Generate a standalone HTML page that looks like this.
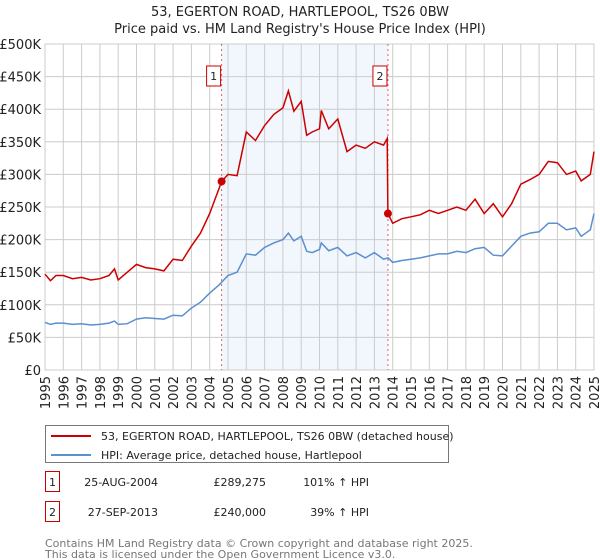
<!DOCTYPE html>
<html><head><meta charset="utf-8"><style>
body{margin:0;background:#fff;font-family:"Liberation Sans","DejaVu Sans",sans-serif;}
#wrap{position:relative;width:600px;height:560px;overflow:hidden}
text{font-family:"DejaVu Sans","Liberation Sans",sans-serif}
</style></head><body><div id="wrap">
<svg id="c" width="600" height="560" xmlns="http://www.w3.org/2000/svg"></svg>
</div>
<script>
const hpiYears=[1995,1995.3,1995.6,1996,1996.5,1997,1997.5,1998,1998.5,1998.8,1999,1999.5,2000,2000.5,2001,2001.5,2002,2002.5,2003,2003.5,2004,2004.5,2005,2005.5,2006,2006.5,2007,2007.5,2008,2008.3,2008.6,2009,2009.3,2009.6,2010,2010.1,2010.5,2011,2011.5,2012,2012.5,2013,2013.5,2013.75,2014,2014.5,2015,2015.5,2016,2016.5,2017,2017.5,2018,2018.5,2019,2019.5,2020,2020.5,2021,2021.5,2022,2022.5,2023,2023.5,2024,2024.3,2024.8,2025];
const hpiValues=[73,70,72,72,70,71,69,70,72,75,70,71,78,80,79,78,84,83,95,104,118,130,145,150,178,176,188,195,200,210,198,205,182,180,185,195,183,188,175,180,172,180,170,172,165,168,170,172,175,178,178,182,180,186,188,176,175,190,205,210,212,225,225,215,218,205,215,240];
const redYears=[1995,1995.3,1995.6,1996,1996.5,1997,1997.5,1998,1998.5,1998.8,1999,1999.5,2000,2000.5,2001,2001.5,2002,2002.5,2003,2003.5,2004,2004.65,2005,2005.5,2006,2006.5,2007,2007.5,2008,2008.3,2008.6,2009,2009.3,2009.6,2010,2010.1,2010.5,2011,2011.5,2012,2012.5,2013,2013.5,2013.7,2013.74,2014,2014.5,2015,2015.5,2016,2016.5,2017,2017.5,2018,2018.5,2019,2019.5,2020,2020.5,2021,2021.5,2022,2022.5,2023,2023.5,2024,2024.3,2024.8,2025];
const redValues=[147,137,145,145,140,142,138,140,145,155,138,150,162,157,155,152,170,168,190,210,240,289,300,298,365,352,375,392,402,428,397,412,360,365,370,398,370,385,335,345,340,350,345,355,240,225,232,235,238,245,240,245,250,245,262,240,255,235,255,285,292,300,320,318,300,305,290,300,335];
const saleYears=[2004.65,2013.74];
const salePrices=[289.275,240];
const saleLabels=["1","2"];
const yTicks=[0,50,100,150,200,250,300,350,400,450,500];
const yTickLabels=["£0","£50K","£100K","£150K","£200K","£250K","£300K","£350K","£400K","£450K","£500K"];
const xTicks=[];for(let y=1995;y<=2025;y++)xTicks.push(y);

const X0=45,X1=594,Y0=370,Y1=44;
const xs=v=>X0+(v-1995)/30*(X1-X0);
const ys=v=>Y0-v/500*(Y0-Y1);
const svg=document.getElementById('c');const NS="http://www.w3.org/2000/svg";
function mk(t,a,p){const e=document.createElementNS(NS,t);for(const k in a)e.setAttribute(k,a[k]);(p||svg).appendChild(e);return e;}
function tx(s,a){const e=mk('text',a);e.textContent=s;return e;}

let e=tx("53, EGERTON ROAD, HARTLEPOOL, TS26 0BW",{x:300,y:16,'text-anchor':'middle','font-size':13,fill:'#222'});


e=tx("Price paid vs. HM Land Registry's House Price Index (HPI)",{x:300,y:33,'text-anchor':'middle','font-size':13,fill:'#222'});



e=mk('rect',{x:xs(saleYears[0]),y:Y1,width:xs(saleYears[1])-xs(saleYears[0]),height:Y0-Y1,fill:'#edf2fc',opacity:0.7});



yTicks.forEach((t,i)=>{
 e=mk('line',{x1:X0,x2:X1,y1:ys(t),y2:ys(t),stroke:'#ccc','stroke-width':1});
 
 
 e=tx(yTickLabels[i],{x:X0-4,y:ys(t)+5,'text-anchor':'end','font-size':13,fill:'#222'});
 
 
});
xTicks.forEach(t=>{
 e=mk('line',{x1:xs(t),x2:xs(t),y1:Y1,y2:Y0,stroke:'#ccc','stroke-width':1});
 
 
 e=tx(String(t),{x:0,y:0,'text-anchor':'end','font-size':13,fill:'#222',transform:`translate(${xs(t)+5},${Y0+6}) rotate(-90)`});
 
 
});
e=mk('rect',{x:X0,y:Y1,width:X1-X0,height:Y0-Y1,fill:'none',stroke:'#ccc'});



saleYears.forEach((s,i)=>{
 e=mk('line',{x1:xs(s),x2:xs(s),y1:Y1,y2:Y0,stroke:'#e06060','stroke-dasharray':'2,3','stroke-width':1});
 
 
 e=mk('rect',{x:xs(s)-15,y:66,width:14,height:20,fill:'#fff',stroke:'#c00'});
 
 
 e=tx(saleLabels[i],{x:xs(s)-8,y:80,'text-anchor':'middle','font-size':11,fill:'#222'});
 
 
});

function path(xa,va){return xa.map((x,i)=>(i?'L':'M')+xs(x).toFixed(1)+','+ys(va[i]).toFixed(1)).join('');}
e=mk('path',{d:path(hpiYears,hpiValues),fill:'none',stroke:'#5b8fd0','stroke-width':1.5});


e=mk('path',{d:path(redYears,redValues),fill:'none',stroke:'#cc0000','stroke-width':1.5});


saleYears.forEach((s,i)=>{
 e=mk('circle',{cx:xs(s),cy:ys(salePrices[i]),r:4,fill:'#cc0000'});
 
 
});

// legend
e=mk('rect',{x:45.5,y:425.5,width:403,height:37,fill:'#fff',stroke:'#777'});


e=mk('line',{x1:51,x2:91,y1:436,y2:436,stroke:'#cc0000','stroke-width':2});


e=tx("53, EGERTON ROAD, HARTLEPOOL, TS26 0BW (detached house)",{x:101,y:440,'font-size':11,fill:'#222'});


e=mk('line',{x1:51,x2:91,y1:455,y2:455,stroke:'#5b8fd0','stroke-width':2});


e=tx("HPI: Average price, detached house, Hartlepool",{x:101,y:459,'font-size':11,fill:'#222'});



const rows=[["1","25-AUG-2004","£289,275","101% ↑ HPI",483],["2","27-SEP-2013","£240,000","39% ↑ HPI",513]];
rows.forEach(r=>{
 e=mk('rect',{x:45.5,y:r[4]-11.5,width:14,height:20,fill:'#fff',stroke:'#c00'});
 
 
 e=tx(r[0],{x:52.5,y:r[4]+3,'text-anchor':'middle','font-size':11,fill:'#222'});
 
 
 e=tx(r[1],{x:158,y:r[4]+3,'text-anchor':'end','font-size':11,fill:'#222'});
 
 
 e=tx(r[2],{x:266,y:r[4]+3,'text-anchor':'end','font-size':11,fill:'#222'});
 
 
 e=tx(r[3],{x:369,y:r[4]+3,'text-anchor':'end','font-size':11,fill:'#222'});
 
 
});
e=tx("Contains HM Land Registry data © Crown copyright and database right 2025.",{x:45,y:547,'font-size':11,fill:'#777'});


e=tx("This data is licensed under the Open Government Licence v3.0.",{x:45,y:558,'font-size':11,fill:'#777'});


</script></body></html>
